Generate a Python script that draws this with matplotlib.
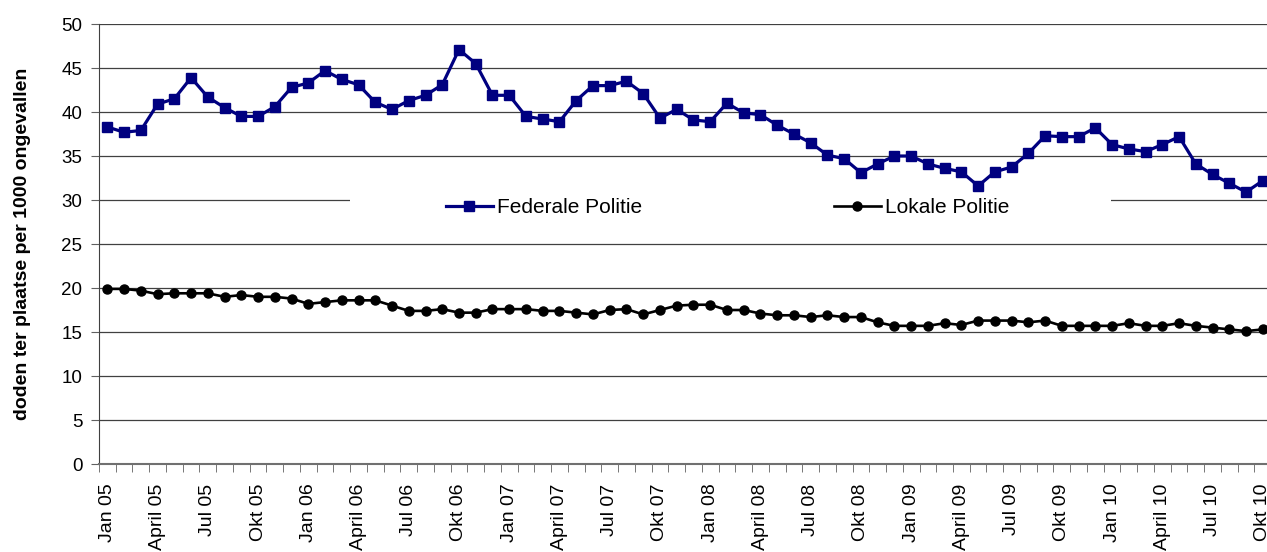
import matplotlib
matplotlib.use("Agg")
import matplotlib.pyplot as plt
import matplotlib.transforms as mtransforms
from matplotlib.patches import Rectangle
import numpy as np

plt.rcParams['font.family'] = ['Liberation Sans', 'DejaVu Sans']

# maandlabels (elke maand een categorie, label om de 3 maanden)
month_names = ["Jan", "Feb", "Mrt", "April", "Mei", "Jun",
               "Jul", "Aug", "Sep", "Okt", "Nov", "Dec"]
years = ["05", "06", "07", "08", "09", "10"]
months = [m + " " + y for y in years for m in month_names][:70]

federale = [38.3, 37.7, 37.9, 40.9, 41.5, 43.9, 41.7, 40.5, 39.5, 39.5, 40.6, 42.8,
            43.3, 44.7, 43.7, 43.1, 41.1, 40.3, 41.3, 41.9, 43.1, 47.1, 45.5, 41.9,
            41.9, 39.5, 39.2, 38.9, 41.3, 43.0, 43.0, 43.5, 42.1, 39.3, 40.3, 39.1,
            38.9, 41.0, 39.9, 39.7, 38.5, 37.5, 36.5, 35.1, 34.7, 33.1, 34.1, 35.0,
            35.0, 34.1, 33.6, 33.2, 31.6, 33.2, 33.75, 35.3, 37.3, 37.2, 37.2, 38.2,
            36.3, 35.8, 35.5, 36.3, 37.2, 34.1, 32.9, 31.9, 30.9, 32.2]

lokale = [19.9, 19.9, 19.7, 19.3, 19.4, 19.4, 19.4, 19.0, 19.2, 19.0, 19.0, 18.8,
          18.2, 18.4, 18.6, 18.6, 18.6, 18.0, 17.4, 17.4, 17.6, 17.2, 17.2, 17.6,
          17.6, 17.6, 17.4, 17.4, 17.2, 17.0, 17.5, 17.6, 17.0, 17.5, 18.0, 18.1,
          18.1, 17.5, 17.5, 17.1, 16.9, 16.9, 16.7, 16.9, 16.7, 16.7, 16.1, 15.7,
          15.7, 15.7, 16.0, 15.8, 16.3, 16.3, 16.3, 16.1, 16.3, 15.7, 15.7, 15.7,
          15.7, 16.0, 15.7, 15.7, 16.0, 15.7, 15.5, 15.3, 15.1, 15.3]

x = np.arange(len(months))

fig = plt.figure(figsize=(12.67, 5.52), dpi=100)
ax = fig.add_axes([0.0781, 0.1594, 0.9252, 0.7971])

ax.set_axisbelow(True)
ax.yaxis.grid(True, color='#404040', linewidth=0.9)

ax.plot(x, federale, color='#000080', linewidth=2.3, marker='s',
        markersize=7.2, label='Federale Politie', zorder=3)
ax.plot(x, lokale, color='black', linewidth=1.9, marker='o',
        markersize=6.5, label='Lokale Politie', zorder=3)

ax.set_xlim(-0.5, len(months) - 0.5)
ax.set_ylim(0, 50)
ax.set_yticks(range(0, 51, 5))

ax.set_xticks(x[::3])
ax.set_xticklabels(months[::3], rotation=90, fontsize=14)
ax.set_xticks(np.arange(-0.5, len(months), 1), minor=True)
ax.tick_params(axis='x', which='major', length=0, pad=14)
ax.tick_params(axis='x', which='minor', length=6, color='#606060', direction='out')
ax.tick_params(axis='y', length=6, color='#606060', labelsize=13.5, pad=6)

for s in ['top', 'right']:
    ax.spines[s].set_visible(False)
ax.spines['left'].set_color('#404040')
ax.spines['bottom'].set_color('#707070')
ax.spines['bottom'].set_linewidth(1.5)

ax.set_ylabel('doden ter plaatse per 1000 ongevallen', fontsize=14,
              fontweight='bold', labelpad=22)

# witte achtergrond achter de legende (onderbreekt de rasterlijn bij 30)
trans = mtransforms.blended_transform_factory(ax.transAxes, ax.transData)
ax.add_patch(Rectangle((0.214, 27.8), 0.649, 3.0, transform=trans,
                       facecolor='white', edgecolor='none', zorder=1))

ax.legend(loc='center left', bbox_to_anchor=(0.296, 0.582), ncol=2,
          frameon=False, fontsize=15, handlelength=2.25, handletextpad=0.2,
          columnspacing=9.2, borderpad=0, borderaxespad=0)

fig.savefig('out.png', dpi=100)
